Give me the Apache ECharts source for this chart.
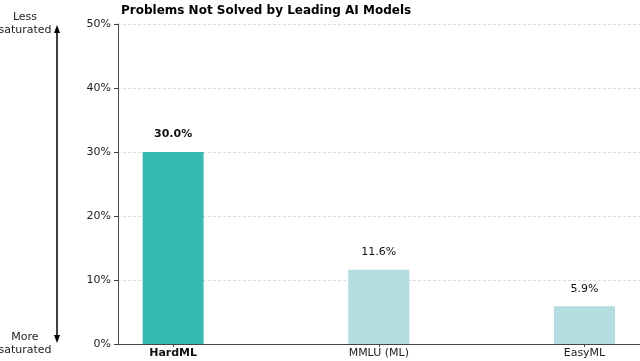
<!DOCTYPE html>
<html><head><meta charset="utf-8">
<script src="https://cdn.jsdelivr.net/npm/echarts@6/dist/echarts.min.js"></script>
<style>html,body{margin:0;padding:0;background:#fff}#c{width:640px;height:361px}</style>
</head><body><div id="c"></div>
<script>
const categories = ['HardML', 'MMLU (ML)', 'EasyML'];
const values = [30.0, 11.6, 5.9];
const barColors = ['#36b8b3', '#b3dde1'];
const yTicks = [0, 10, 20, 30, 40, 50];
const titleText = 'Problems Not Solved by Leading AI Models';

const chart = echarts.init(document.getElementById('c'), null, {renderer: 'canvas'});
const F = 'DejaVu Sans';
const data = values.map((v, i) => ({
  value: [i, v],
  itemStyle: {color: i === 0 ? barColors[0] : barColors[1]},
  label: {fontWeight: i === 0 ? 'bold' : 'normal'}
}));
chart.setOption({
  animation: false,
  title: {text: titleText, left: 116, top: 0, textStyle: {fontFamily: F, fontSize: 12, fontWeight: 'bold', color: '#000'}},
  grid: {left: 118, right: 0, top: 24, bottom: 17, containLabel: false},
  xAxis: {
    type: 'value', min: -0.268, max: 2.27,
    axisLine: {show: true, onZero: false, lineStyle: {color: '#444', width: 1}},
    axisTick: {show: true, customValues: [0, 1, 2], length: 3, lineStyle: {color: '#444'}},
    splitLine: {show: false},
    axisLabel: {
      customValues: [0, 1, 2], margin: 4, fontFamily: F, fontSize: 11, color: '#222',
      formatter: v => { const i = Math.round(v); return i === 0 ? '{b|' + categories[i] + '}' : categories[i]; },
      rich: {b: {fontFamily: F, fontSize: 11, fontWeight: 'bold', color: '#111'}}
    }
  },
  yAxis: {
    type: 'value', min: yTicks[0], max: yTicks[yTicks.length - 1], interval: 10,
    axisLine: {show: true, onZero: false, lineStyle: {color: '#444', width: 1}},
    axisTick: {show: true, length: 4, lineStyle: {color: '#444'}},
    axisLabel: {fontFamily: F, fontSize: 11, color: '#222', margin: 7, formatter: v => v + '%'},
    splitLine: {show: true, lineStyle: {color: '#d4d4d4', type: [3, 2], width: 0.8}}
  },
  series: [{
    type: 'bar', barWidth: 61, data: data,
    label: {show: true, position: 'top', distance: 12, fontFamily: F, fontSize: 11, color: '#111',
      formatter: p => p.value[1].toFixed(1) + '%'}
  }],
  graphic: [
    {type: 'text', style: {text: 'Less\nsaturated', x: 25, y: 11, align: 'center', verticalAlign: 'top', fontFamily: F, fontSize: 11, lineHeight: 13, fill: '#222'}},
    {type: 'text', style: {text: 'More\nsaturated', x: 25, y: 331, align: 'center', verticalAlign: 'top', fontFamily: F, fontSize: 11, lineHeight: 13, fill: '#222'}},
    {type: 'line', shape: {x1: 57, y1: 32, x2: 57, y2: 336}, style: {stroke: '#000', lineWidth: 1.5}},
    {type: 'polygon', shape: {points: [[57, 25], [54, 33], [60, 33]]}, style: {fill: '#000'}},
    {type: 'polygon', shape: {points: [[57, 343], [54, 335], [60, 335]]}, style: {fill: '#000'}}
  ]
});
</script></body></html>
